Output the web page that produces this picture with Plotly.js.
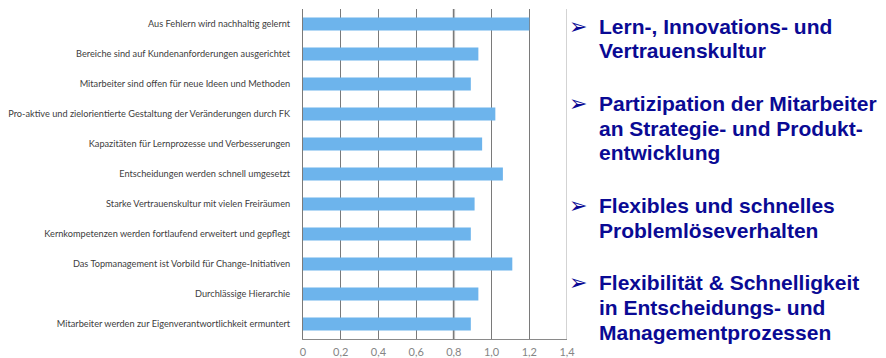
<!DOCTYPE html>
<html><head><meta charset="utf-8">
<script src="https://cdn.plot.ly/plotly-3.0.1.min.js"></script>
<style>html,body{margin:0;padding:0;background:#fff}#chart{width:886px;height:358px}</style>
</head><body><div id="chart"></div>
<script>
const categories = [
  "Aus Fehlern wird nachhaltig gelernt",
  "Bereiche sind auf Kundenanforderungen ausgerichtet",
  "Mitarbeiter sind offen für neue Ideen und Methoden",
  "Pro-aktive und zielorientierte Gestaltung der Veränderungen durch FK",
  "Kapazitäten für Lernprozesse und Verbesserungen",
  "Entscheidungen werden schnell umgesetzt",
  "Starke Vertrauenskultur mit vielen Freiräumen",
  "Kernkompetenzen werden fortlaufend erweitert und gepflegt",
  "Das Topmanagement ist Vorbild für Change-Initiativen",
  "Durchlässige Hierarchie",
  "Mitarbeiter werden zur Eigenverantwortlichkeit ermuntert"
];
const values = [1.20, 0.93, 0.89, 1.02, 0.95, 1.06, 0.91, 0.89, 1.11, 0.93, 0.89];
const tickValues = [0, 0.2, 0.4, 0.6, 0.8, 1.0, 1.2, 1.4];
const tickLabels = ["0", "0,2", "0,4", "0,6", "0,8", "1,0", "1,2", "1,4"];
const bullets = [
  ["Lern-, Innovations- und", "Vertrauenskultur"],
  ["Partizipation der Mitarbeiter", "an Strategie- und Produkt-", "entwicklung"],
  ["Flexibles und schnelles", "Problemlöseverhalten"],
  ["Flexibilität & Schnelligkeit", "in Entscheidungs- und", "Managementprozessen"]
];
const bulletTop = [26, 103, 205, 282];

const W = 886, H = 358, L = 303, R = 319, T = 9, B = 19;
const pw = W - L - R, ph = H - T - B;
const navy = "#0a0a94";
const annotations = [];
bullets.forEach((lines, i) => {
  lines.forEach((line, j) => {
    annotations.push({
      xref: "paper", yref: "paper", x: (597 - L) / pw, y: 1 - (bulletTop[i] + 25 * j - T) / ph,
      xanchor: "left", yanchor: "middle", align: "left", showarrow: false,
      text: line, font: {family: "Liberation Sans, Arial", size: 21, color: navy, weight: "bold"}
    });
  });
  annotations.push({
    xref: "paper", yref: "paper", x: (567 - L) / pw, y: 1 - (bulletTop[i] - T) / ph,
    xanchor: "left", yanchor: "middle", showarrow: false,
    text: "➢", font: {family: "DejaVu Sans", size: 22, color: navy}
  });
});

const shapes = [
  {type: "line", xref: "x", yref: "paper", x0: 0.8, x1: 0.8, y0: 0, y1: 1, layer: "below",
   line: {color: "#bcbcbc", width: 2.5}},
  {type: "line", xref: "x", yref: "paper", x0: 1.4, x1: 1.4, y0: 0, y1: 1, layer: "below",
   line: {color: "#c4c4c4", width: 1.5}}
];

Plotly.newPlot("chart", [{
  type: "bar", orientation: "h", y: categories, x: values,
  marker: {color: "#6db4ec"}, width: 0.43, hoverinfo: "skip"
}], {
  width: W, height: H, margin: {l: L, r: R, t: T, b: B, pad: 0},
  paper_bgcolor: "#fff", plot_bgcolor: "#fff", showlegend: false,
  xaxis: {range: [0, 1.4], tickvals: tickValues, ticktext: tickLabels, showgrid: true,
    gridcolor: "#7a7a7a", gridwidth: 1, zeroline: false, showline: true, linecolor: "#8a8a8a",
    ticks: "", tickfont: {family: "Lato", size: 11, color: "#858585"}, ticklabelstandoff: 3, fixedrange: true},
  yaxis: {autorange: "reversed", showline: true, linecolor: "#7a7a7a", ticks: "",
    tickfont: {family: "Lato", size: 9.2, color: "#404040"}, ticklabelstandoff: 10, fixedrange: true},
  annotations: annotations, shapes: shapes
}, {staticPlot: true});
</script></body></html>
